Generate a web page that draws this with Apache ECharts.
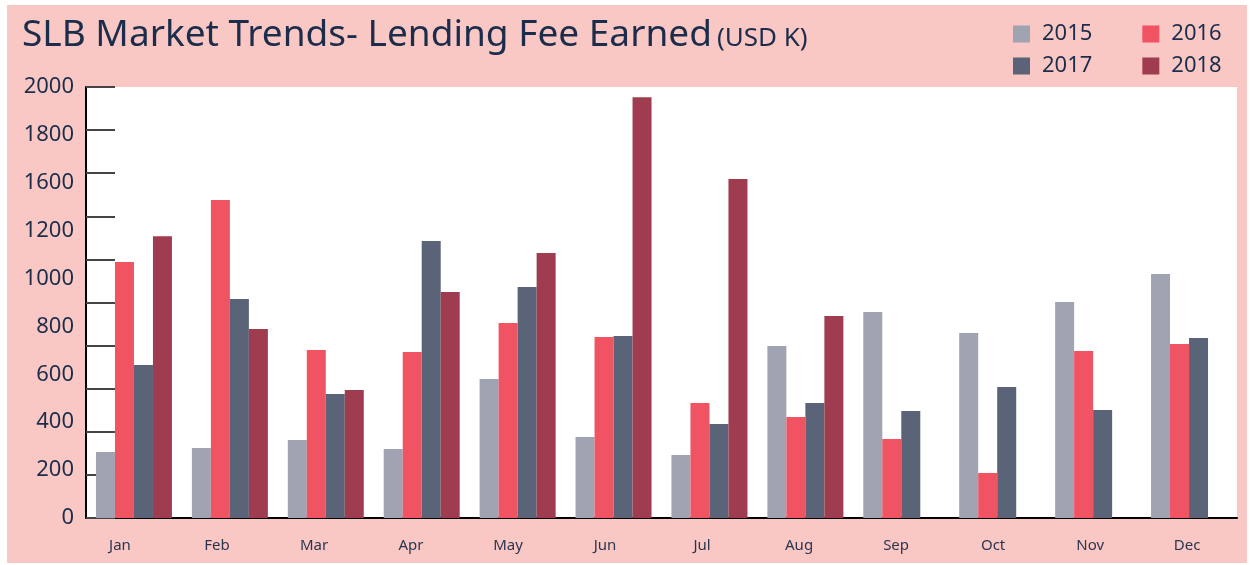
<!DOCTYPE html>
<html lang="en">

<head>
    <meta charset="UTF-8">
    <title>SLB Market Trends</title>
    <style>
        body {
            margin: 0;
            background: #fff;
        }

        #chart {
            position: absolute;
            left: 7px;
            top: 5px;
            width: 1240px;
            height: 558px;
            background: #f9c8c4;
        }
    </style>
</head>

<body>

    <div id='chart'></div>

    <script src="https://cdn.jsdelivr.net/npm/echarts@6/dist/echarts.min.js"></script>
    <script>
        const months = ['Jan', 'Feb', 'Mar', 'Apr', 'May', 'Jun', 'Jul', 'Aug', 'Sep', 'Oct', 'Nov', 'Dec']
        const y2015 = [306, 325, 362, 320, 645, 376, 292, 798, 956, 858, 1002, 1132]
        const y2016 = [1188, 1476, 780, 770, 905, 840, 534, 469, 367, 209, 775, 807]
        const y2017 = [710, 1016, 575, 1285, 1072, 845, 436, 534, 496, 608, 501, 835]
        const y2018 = [1308, 877, 594, 1049, 1230, 1953, 1573, 937, null, null, null, null]
        // the printed labels on the left (1400 is missing in the original)
        const tickLabels = ['0', '200', '400', '600', '800', '1000', '1200', '1600', '1800', '2000']

        const navy = '#1b2d4b'
        const font = 'Noto Sans'

        const series = [
            { name: '2015', data: y2015, color: '#a0a3b1' },
            { name: '2016', data: y2016, color: '#f05462' },
            { name: '2017', data: y2017, color: '#5a6378' },
            { name: '2018', data: y2018, color: '#a03c4f' }
        ].map(s => ({
            name: s.name,
            type: 'bar',
            data: s.data,
            barWidth: 19,
            barGap: '0%',
            itemStyle: { color: s.color },
            yAxisIndex: 0
        }))

        const legendBase = {
            orient: 'horizontal',
            icon: 'rect',
            itemWidth: 17,
            itemHeight: 17,
            itemGap: 50,
            textStyle: { color: navy, fontSize: 22, fontFamily: font, padding: [0, 0, 0, 7] }
        }

        // month labels in the original sit a bit left of the band centres, less so to the right
        const monthRich = {}
        months.forEach((m, i) => {
            monthRich['m' + i] = {
                color: '#2b3550', fontSize: 15, fontFamily: font,
                padding: [0, Math.max(0, 28 - 2.2 * i), 0, 0]
            }
        })

        const myChart = echarts.init(document.querySelector('#chart'))
        const option = {
            animation: false,
            title: {
                text: '{a|SLB Market Trends- Lending Fee Earned} {b|(USD K)}',
                left: 10,
                top: 7,
                textStyle: {
                    rich: {
                        a: { fontSize: 37, color: navy, fontFamily: font, fontWeight: 'normal' },
                        b: { fontSize: 26, color: navy, fontFamily: font, fontWeight: 'normal', padding: [6, 0, 0, 0] }
                    }
                }
            },
            legend: [
                Object.assign({ left: 1001, top: 13, data: ['2015', '2016'] }, legendBase),
                Object.assign({ left: 1001, top: 45, data: ['2017', '2018'] }, legendBase)
            ],
            grid: {
                left: 79,
                right: 10,
                top: 82,
                bottom: 45,
                show: true,
                backgroundColor: '#fff',
                borderWidth: 0
            },
            xAxis: {
                type: 'category',
                data: months,
                axisLine: { lineStyle: { color: '#000', width: 2 } },
                axisTick: { inside: true, length: 10, lineStyle: { color: '#000', width: 2 } },
                axisLabel: {
                    margin: 20,
                    formatter: (value, index) => '{m' + index + '|' + value + '}',
                    rich: monthRich
                }
            },
            yAxis: [{
                type: 'value',
                min: 0,
                max: 2000,
                interval: 200,
                axisLine: { show: true, lineStyle: { color: '#000', width: 2 } },
                axisTick: { show: true, inside: true, length: 29, lineStyle: { color: '#444', width: 2 } },
                axisLabel: { show: false },
                splitLine: { show: false }
            }, {
                type: 'category',
                position: 'left',
                data: tickLabels,
                boundaryGap: false,
                axisLine: { show: false },
                axisTick: { show: false },
                axisLabel: { color: navy, fontSize: 22, fontFamily: font, margin: 12 },
                splitLine: { show: false }
            }],
            series: series
        }

        myChart.setOption(option)
    </script>
</body>

</html>
